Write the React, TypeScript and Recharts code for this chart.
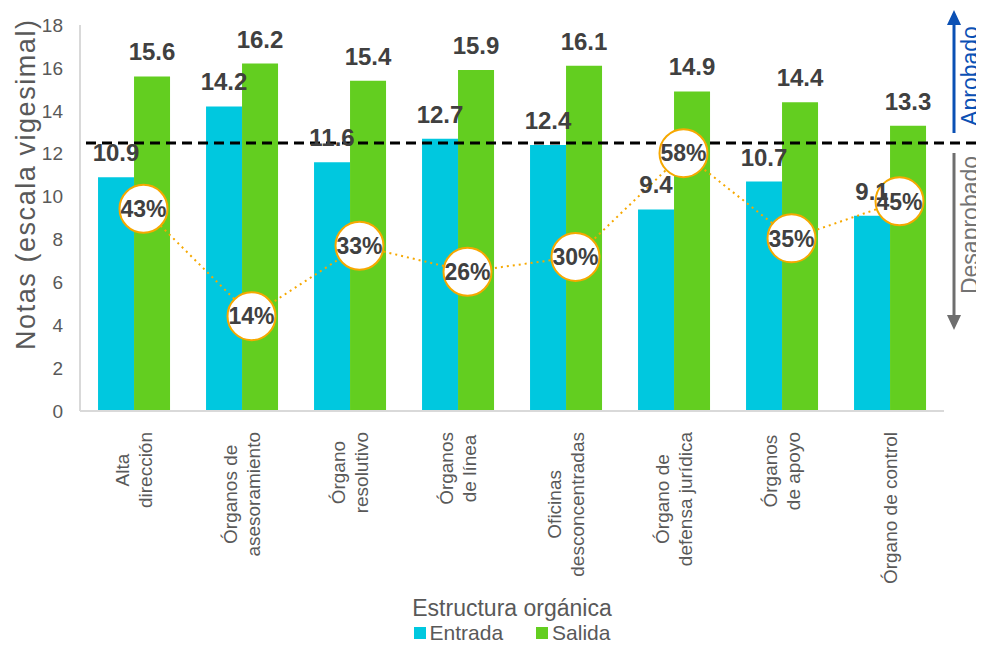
import { ComposedChart, Bar, Line, XAxis, YAxis, ReferenceLine, LabelList, Legend, Customized } from 'recharts';

const CATEGORIES = [
  ['Alta', 'dirección'],
  ['Órganos de', 'asesoramiento'],
  ['Órgano', 'resolutivo'],
  ['Órganos', 'de línea'],
  ['Oficinas', 'desconcentradas'],
  ['Órgano de', 'defensa jurídica'],
  ['Órganos', 'de apoyo'],
  ['Órgano de control'],
];
const ENTRADA = [10.9, 14.2, 11.6, 12.7, 12.4, 9.4, 10.7, 9.1];
const SALIDA = [15.6, 16.2, 15.4, 15.9, 16.1, 14.9, 14.4, 13.3];
const PCT = [43, 14, 33, 26, 30, 58, 35, 45]; // share that passed, shown in circles
const Y_TICKS = [0, 2, 4, 6, 8, 10, 12, 14, 16, 18];
const PASS_MARK = 12.5;

const CYAN = '#00C8DF';
const GREEN = '#63CE20';
const GOLD = '#F6A800';
const DARK = '#404040';
const GREY = '#595959';
const FONT = '"Liberation Sans", Arial, sans-serif';

const data = CATEGORIES.map((lines, i) => ({
  name: lines.join(' '),
  idx: i,
  entrada: ENTRADA[i],
  salida: SALIDA[i],
  pct: PCT[i],
}));

// circles sit a little right of the category centre in the original
const PCT_SHIFT = 0.088;

let ctx: CanvasRenderingContext2D | null = null;
function textWidth(s: string, size: number) {
  if (!ctx) ctx = document.createElement('canvas').getContext('2d');
  if (!ctx) return s.length * size * 0.5;
  ctx.font = `${size}px ${FONT}`;
  return ctx.measureText(s).width;
}

// two-line category labels, rotated, centred on each other, top-aligned under the axis
function CategoryTick(props: any) {
  const { x, y, index } = props;
  const lines: string[] = CATEGORIES[index] ?? [];
  const size = 19;
  const maxW = Math.max(...lines.map((l) => textWidth(l, size)));
  const cy = y + 19 + maxW / 2;
  return (
    <g>
      {lines.map((l, i) => {
        const cx = x + (i - (lines.length - 1) / 2) * 23;
        return (
          <text
            key={l}
            transform={`translate(${cx},${cy}) rotate(-90)`}
            textAnchor="middle"
            dy="0.35em"
            fontSize={size}
            fill={GREY}
            fontFamily={FONT}
          >
            {l}
          </text>
        );
      })}
    </g>
  );
}

function PctDot(props: any) {
  const { cx, cy, payload, index } = props;
  return (
    <g key={`pct-${index}`}>
      <circle cx={cx} cy={cy} r={24} fill="#fff" stroke={GOLD} strokeWidth={2} />
      <text x={cx} y={cy} dy="0.36em" textAnchor="middle" fontSize={23} fontWeight="bold" fill={DARK} fontFamily={FONT}>
        {`${payload.pct}%`}
      </text>
    </g>
  );
}

function Notes() {
  return (
    <g fontFamily={FONT}>
      <text
        transform="translate(26,185) rotate(-90)"
        textAnchor="middle"
        dy="0.35em"
        fontSize={27}
        fill={GREY}
        textLength={330}
        lengthAdjust="spacing"
      >
        Notas (escala vigesimal)
      </text>
      <text x={512} y={616} textAnchor="middle" fontSize={23} fill={GREY}>
        Estructura orgánica
      </text>
      {/* pass / fail arrows on the right */}
      <line x1={954} y1={133} x2={954} y2={22} stroke="#0B50B4" strokeWidth={3} />
      <polygon points="954,10 947,25 961,25" fill="#0B50B4" />
      <text transform="translate(970,76) rotate(-90)" textAnchor="middle" dy="0.35em" fontSize={23} fill="#0B50B4">
        Aprobado
      </text>
      <line x1={954} y1={153} x2={954} y2={318} stroke="#6E6E6E" strokeWidth={3} />
      <polygon points="954,330 947,315 961,315" fill="#6E6E6E" />
      <text transform="translate(970,225) rotate(-90)" textAnchor="middle" dy="0.35em" fontSize={23} fill="#737373">
        Desaprobado
      </text>
    </g>
  );
}

function LegendBox() {
  const items = [
    { label: 'Entrada', color: CYAN },
    { label: 'Salida', color: GREEN },
  ];
  return (
    <div
      style={{
        display: 'flex',
        justifyContent: 'center',
        alignItems: 'center',
        gap: 33,
        height: 28,
        marginTop: -1,
        fontFamily: FONT,
      }}
    >
      {items.map((it) => (
        <div key={it.label} style={{ display: 'flex', alignItems: 'center', gap: 4 }}>
          <span style={{ width: 12, height: 12, background: it.color, display: 'inline-block' }} />
          <span style={{ fontSize: 21, color: GREY, lineHeight: '24px' }}>{it.label}</span>
        </div>
      ))}
    </div>
  );
}

function PassLine(props: any) {
  const { x1, y1, x2, y2 } = props;
  return <line x1={x1 + 6} y1={y1} x2={x2 + 40} y2={y2} stroke="#000" strokeWidth={3} strokeDasharray="10 6" />;
}

export default function App() {
  return (
    <div style={{ width: 984, height: 648, margin: -8, fontFamily: FONT }}>
      <ComposedChart
        width={984}
        height={648}
        data={data}
        margin={{ top: 25, right: 40, left: 0, bottom: 0 }}
        barGap={0}
        barCategoryGap="16.7%"
      >
        <XAxis
          dataKey="name"
          height={209}
          interval={0}
          tickLine={false}
          tickSize={0}
          axisLine={{ stroke: '#D9D9D9', strokeWidth: 2 }}
          tick={<CategoryTick />}
        />
        <XAxis
          xAxisId="pctX"
          type="number"
          dataKey="idx"
          domain={[-0.5 - PCT_SHIFT, 7.5 - PCT_SHIFT]}
          allowDataOverflow
          hide
        />
        <YAxis
          yAxisId="notas"
          width={80}
          domain={[0, 18]}
          ticks={Y_TICKS}
          tickLine={false}
          tickSize={0}
          tickMargin={17}
          axisLine={{ stroke: '#D9D9D9', strokeWidth: 2 }}
          tick={{ fontSize: 19, fill: GREY, fontFamily: FONT }}
        />
        <YAxis yAxisId="pct" orientation="right" hide domain={[-11.6, 92.6]} />
        <Legend verticalAlign="bottom" height={28} wrapperStyle={{ left: 40, width: 944 }} content={<LegendBox />} />
        <Bar yAxisId="notas" dataKey="entrada" name="Entrada" fill={CYAN} isAnimationActive={false}>
          <LabelList dataKey="entrada" position="top" offset={16} fontSize={24} fontWeight="bold" fill={DARK} fontFamily={FONT} />
        </Bar>
        <Bar yAxisId="notas" dataKey="salida" name="Salida" fill={GREEN} isAnimationActive={false}>
          <LabelList dataKey="salida" position="top" offset={16} fontSize={24} fontWeight="bold" fill={DARK} fontFamily={FONT} />
        </Bar>
        <Line
          xAxisId="pctX"
          yAxisId="pct"
          dataKey="pct"
          stroke={GOLD}
          strokeWidth={2}
          strokeDasharray="2 4"
          dot={<PctDot />}
          activeDot={false}
          legendType="none"
          isAnimationActive={false}
        />
        <ReferenceLine yAxisId="notas" y={PASS_MARK} shape={<PassLine />} />
        <Customized component={Notes} />
      </ComposedChart>
    </div>
  );
}
